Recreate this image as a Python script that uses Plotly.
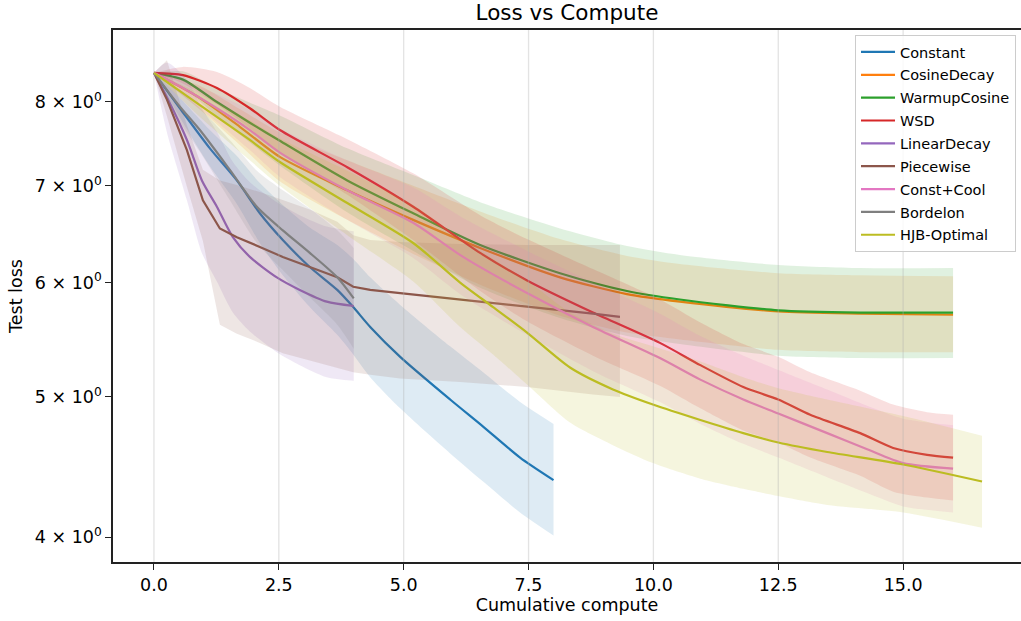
import plotly.graph_objects as go

# ---------------- data ----------------
series_names = ["Constant", "CosineDecay", "WarmupCosine", "WSD", "LinearDecay",
                "Piecewise", "Const+Cool", "Bordelon", "HJB-Optimal"]
series_colors = ["#1f77b4", "#ff7f0e", "#2ca02c", "#d62728", "#9467bd",
                 "#8c564b", "#e377c2", "#7f7f7f", "#bcbd22"]

constant_x = [0, 0.52, 1.12, 1.66, 2.12, 2.58, 3.12, 3.67, 3.99, 4.33, 4.93, 5.93, 6.59, 7.33, 8.0]
constant_mean = [8.38, 7.92, 7.43, 7.06, 6.70, 6.42, 6.15, 5.93, 5.77, 5.59, 5.33, 4.98, 4.77, 4.54, 4.38]
constant_hi = [8.38, 8.05, 7.65, 7.34, 7.03, 6.79, 6.55, 6.37, 6.23, 6.05, 5.79, 5.42, 5.20, 4.96, 4.79]
constant_lo = [8.38, 7.80, 7.22, 6.80, 6.39, 6.07, 5.77, 5.52, 5.35, 5.16, 4.91, 4.57, 4.37, 4.16, 4.01]

cosine_x = [0, 0.92, 1.72, 2.52, 3.87, 5.19, 6.53, 8.13, 9.47, 10.53, 12.50, 14.14, 16.0]
cosine_mean = [8.38, 8.05, 7.69, 7.33, 6.95, 6.63, 6.34, 6.05, 5.89, 5.82, 5.73, 5.71, 5.70]
cosine_hi = [8.38, 8.21, 7.91, 7.62, 7.29, 7.00, 6.72, 6.43, 6.26, 6.18, 6.09, 6.07, 6.06]
cosine_lo = [8.38, 7.90, 7.47, 7.05, 6.63, 6.28, 5.98, 5.69, 5.54, 5.48, 5.39, 5.37, 5.37]

warmup_x = [0, 0.58, 1.26, 1.92, 2.52, 3.87, 5.19, 6.53, 8.13, 9.47, 10.53, 12.50, 14.14, 16.0]
warmup_mean = [8.38, 8.29, 8.00, 7.74, 7.52, 7.06, 6.70, 6.37, 6.09, 5.92, 5.84, 5.74, 5.72, 5.72]
warmup_hi = [8.38, 8.40, 8.18, 7.99, 7.83, 7.43, 7.12, 6.82, 6.54, 6.36, 6.27, 6.17, 6.14, 6.14]
warmup_lo = [8.38, 8.19, 7.82, 7.50, 7.23, 6.71, 6.31, 5.95, 5.67, 5.51, 5.44, 5.34, 5.32, 5.32]

wsd_x = [0, 0.58, 1.26, 1.92, 2.52, 3.87, 5.19, 6.53, 7.47, 8.79, 10.13, 10.94, 11.80, 12.50,
         13.14, 14.14, 14.80, 15.48, 16.0]
wsd_mean = [8.38, 8.35, 8.18, 7.92, 7.65, 7.21, 6.77, 6.29, 6.02, 5.72, 5.45, 5.26, 5.08, 4.98,
            4.86, 4.72, 4.61, 4.56, 4.54]
wsd_hi = [8.38, 8.46, 8.39, 8.18, 7.94, 7.54, 7.14, 6.68, 6.43, 6.13, 5.84, 5.63, 5.44, 5.33,
          5.20, 5.05, 4.94, 4.88, 4.86]
wsd_lo = [8.38, 8.24, 7.97, 7.67, 7.38, 6.90, 6.42, 5.92, 5.64, 5.34, 5.09, 4.91, 4.74, 4.65,
          4.54, 4.41, 4.30, 4.26, 4.24]

linear_x = [0, 0.26, 0.66, 0.96, 1.26, 1.58, 1.92, 2.46, 2.92, 3.46, 4.0]
linear_mean = [8.38, 8.06, 7.53, 7.06, 6.77, 6.45, 6.25, 6.05, 5.93, 5.82, 5.78]
linear_hi = [8.38, 8.52, 8.29, 7.92, 7.63, 7.27, 7.04, 6.82, 6.68, 6.56, 6.51]
linear_lo = [8.38, 7.62, 6.84, 6.29, 6.01, 5.72, 5.55, 5.37, 5.26, 5.16, 5.13]

piecewise_x = [0, 0.26, 0.66, 0.98, 1.32, 1.66, 2.12, 2.58, 3.12, 3.67, 3.99, 4.33, 4.93, 6.13,
               7.47, 8.79, 9.33]
piecewise_mean = [8.38, 8.03, 7.41, 6.84, 6.54, 6.45, 6.35, 6.25, 6.15, 6.05, 5.96, 5.93, 5.90,
                  5.84, 5.78, 5.71, 5.68]
piecewise_hi = [8.38, 8.55, 7.71, 7.18, 7.06, 7.01, 6.93, 6.84, 6.74, 6.61, 6.47, 6.42, 6.40,
                6.38, 6.37, 6.37, 6.37]
piecewise_lo = [8.38, 7.82, 6.99, 6.41, 5.61, 5.53, 5.45, 5.36, 5.30, 5.24, 5.20, 5.18, 5.15,
                5.12, 5.08, 5.02, 5.00]

constcool_x = [0, 0.58, 1.26, 1.92, 2.52, 3.87, 5.19, 6.19, 7.47, 8.79, 10.13, 10.94, 11.80,
               12.50, 13.48, 14.28, 15.0, 16.0]
constcool_mean = [8.38, 8.18, 7.92, 7.65, 7.38, 6.95, 6.60, 6.25, 5.90, 5.59, 5.32, 5.14, 4.98,
                  4.87, 4.72, 4.60, 4.50, 4.46]
constcool_hi = [8.38, 8.28, 8.10, 7.90, 7.67, 7.29, 6.98, 6.65, 6.31, 6.00, 5.71, 5.51, 5.34,
                5.22, 5.06, 4.93, 4.83, 4.78]
constcool_lo = [8.38, 8.08, 7.75, 7.41, 7.10, 6.63, 6.24, 5.87, 5.52, 5.21, 4.96, 4.79, 4.64,
                4.54, 4.40, 4.29, 4.20, 4.16]

bordelon_x = [0, 0.52, 0.92, 1.52, 2.06, 2.58, 3.12, 3.67, 4.0]
bordelon_mean = [8.38, 7.94, 7.65, 7.18, 6.77, 6.52, 6.29, 6.05, 5.85]
bordelon_hi = [8.38, 8.13, 7.92, 7.53, 7.17, 6.95, 6.75, 6.52, 6.34]
bordelon_lo = [8.38, 7.75, 7.39, 6.84, 6.39, 6.12, 5.86, 5.61, 5.40]

hjb_x = [0, 0.92, 1.92, 2.52, 3.87, 5.19, 6.13, 6.79, 7.47, 8.33, 9.19, 9.99, 10.94, 11.80,
         12.50, 13.48, 15.0, 16.58]
hjb_mean = [8.38, 7.96, 7.53, 7.27, 6.81, 6.39, 6.00, 5.77, 5.54, 5.24, 5.06, 4.94, 4.82, 4.72,
            4.65, 4.58, 4.49, 4.37]
hjb_hi = [8.38, 8.11, 7.77, 7.55, 7.17, 6.79, 6.44, 6.23, 6.02, 5.72, 5.53, 5.42, 5.29, 5.16,
          5.07, 4.98, 4.85, 4.70]
hjb_lo = [8.38, 7.81, 7.29, 7.00, 6.47, 6.01, 5.59, 5.35, 5.10, 4.80, 4.63, 4.50, 4.39, 4.32,
          4.27, 4.21, 4.16, 4.06]

x_tick_vals = [0, 2.5, 5.0, 7.5, 10.0, 12.5, 15.0]
x_tick_text = ["0.0", "2.5", "5.0", "7.5", "10.0", "12.5", "15.0"]
y_tick_vals = [4, 5, 6, 7, 8]
y_tick_text = ["4 × 10<sup>0</sup>", "5 × 10<sup>0</sup>", "6 × 10<sup>0</sup>",
               "7 × 10<sup>0</sup>", "8 × 10<sup>0</sup>"]

series_data = [
    (constant_x, constant_mean, constant_lo, constant_hi),
    (cosine_x, cosine_mean, cosine_lo, cosine_hi),
    (warmup_x, warmup_mean, warmup_lo, warmup_hi),
    (wsd_x, wsd_mean, wsd_lo, wsd_hi),
    (linear_x, linear_mean, linear_lo, linear_hi),
    (piecewise_x, piecewise_mean, piecewise_lo, piecewise_hi),
    (constcool_x, constcool_mean, constcool_lo, constcool_hi),
    (bordelon_x, bordelon_mean, bordelon_lo, bordelon_hi),
    (hjb_x, hjb_mean, hjb_lo, hjb_hi),
]


def rgba(hex_color, a):
    h = hex_color.lstrip("#")
    r, g, b = int(h[0:2], 16), int(h[2:4], 16), int(h[4:6], 16)
    return f"rgba({r},{g},{b},{a})"


FONT = "DejaVu Sans"
fig = go.Figure()

for name, color, (xs, mean, lo, hi) in zip(series_names, series_colors, series_data):
    shape = "linear" if name == "Piecewise" else "spline"
    fig.add_trace(go.Scatter(x=xs, y=mean, mode="lines", name=name, legendgroup=name,
                             line=dict(color=color, width=2.2, shape=shape, smoothing=0.7)))
    fig.add_trace(go.Scatter(x=xs, y=lo, mode="lines",
                             line=dict(width=0, color=color, shape=shape, smoothing=0.7),
                             showlegend=False, legendgroup=name, hoverinfo="skip"))
    fig.add_trace(go.Scatter(x=xs, y=hi, mode="lines",
                             line=dict(width=0, color=color, shape=shape, smoothing=0.7),
                             fill="tonexty", fillcolor=rgba(color, 0.15),
                             showlegend=False, legendgroup=name, hoverinfo="skip"))

# vertical grid lines drawn over the shaded bands (as matplotlib does)
for xv in x_tick_vals:
    fig.add_shape(type="line", xref="x", yref="paper", x0=xv, x1=xv, y0=0, y1=1,
                  line=dict(color="rgba(176,176,176,0.35)", width=1.3), layer="above")

fig.update_layout(
    width=1021, height=621,
    margin=dict(l=113, r=0, t=30, b=59),
    paper_bgcolor="white", plot_bgcolor="white",
    font=dict(family=FONT, color="black", size=17.5),
    title=dict(text="Loss vs Compute", font=dict(family=FONT, size=21.5, color="black"),
               x=0.5, xref="paper", xanchor="center",
               y=1 - 12 / 621, yref="container", yanchor="middle"),
    showlegend=True,
    legend=dict(x=0.9945, y=0.9906, xanchor="right", yanchor="top",
                bgcolor="rgba(255,255,255,0.8)", bordercolor="#cccccc", borderwidth=1,
                font=dict(family=FONT, size=14.5, color="black"),
                tracegroupgap=1, itemwidth=34),
)

fig.update_xaxes(
    range=[-0.82, 17.36], tickvals=x_tick_vals, ticktext=x_tick_text,
    showgrid=False,
    showline=True, linecolor="#222222", linewidth=1.5, mirror=True,
    ticks="outside", ticklen=6, tickwidth=1.4, tickcolor="#222222",
    zeroline=False, automargin=False,
    title=dict(text="Cumulative compute", font=dict(family=FONT, size=17.5), standoff=4),
)
fig.update_yaxes(
    type="log", range=[0.58478, 0.95289], tickvals=y_tick_vals, ticktext=y_tick_text,
    showgrid=False,
    showline=True, linecolor="#222222", linewidth=1.5, mirror=False,
    ticks="outside", ticklen=6, tickwidth=1.4, tickcolor="#222222",
    zeroline=False, automargin=False,
    title=dict(text="Test loss", font=dict(family=FONT, size=17.5), standoff=8),
)

fig.write_html("out.html", config={"displayModeBar": False},
               post_script="document.body.style.margin='0';document.body.style.padding='0';")
